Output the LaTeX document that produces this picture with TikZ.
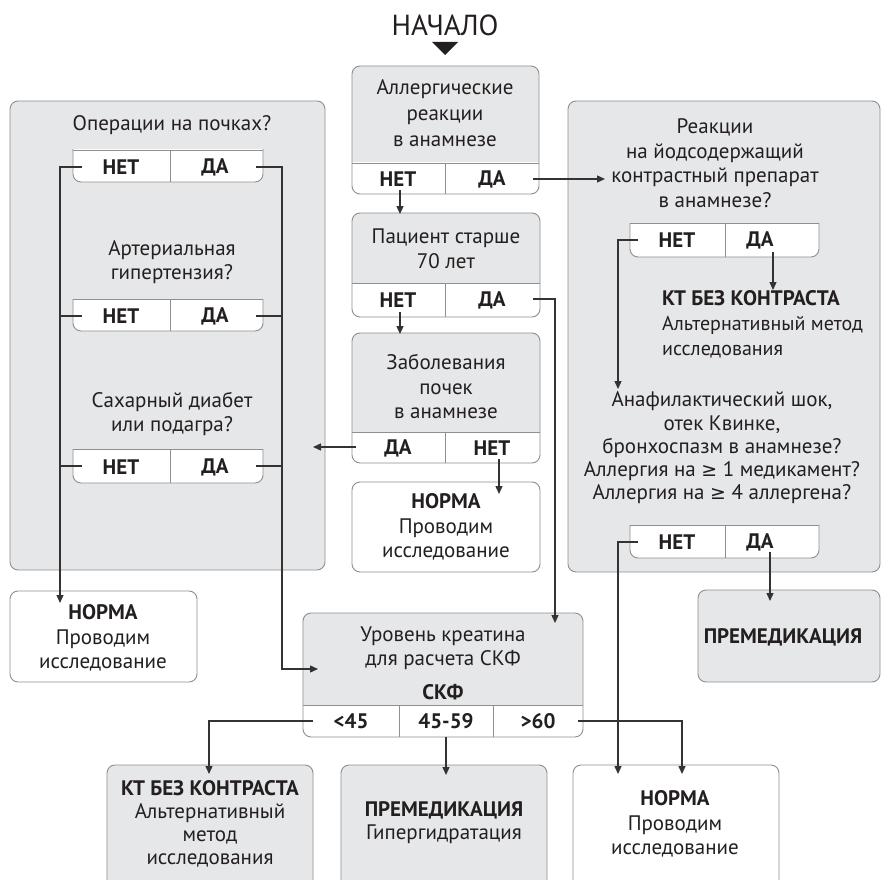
\documentclass[tikz,border=0pt]{standalone}
\usepackage{fontspec}
\setmainfont{PT Sans}
\newfontfamily\symfnt[Scale=0.9]{DejaVu Sans}
\usetikzlibrary{arrows.meta}
\definecolor{panelgray}{HTML}{E6E7E8}
\definecolor{edgegray}{HTML}{8F8F8F}
\definecolor{ink}{HTML}{231F20}
\definecolor{wire}{HTML}{333333}
\newcommand{\decbox}[5]{%
  \fill[panelgray, rounded corners=8pt] (#1,#2) rectangle (#3,#4);
  \begin{scope}\clip (#1,#5) rectangle (#3,#4+2);
    \fill[white, rounded corners=8pt] (#1,#2) rectangle (#3,#4);
  \end{scope}
  \draw[edgegray, line width=0.9pt, rounded corners=8pt] (#1,#2) rectangle (#3,#4);
  \draw[edgegray, line width=0.9pt] (#1,#5) -- (#3,#5);}
\newcommand{\ynbox}[5]{%
  \begin{scope}\clip (#1-2,#2) rectangle (#3+2,#4+2);
    \draw[edgegray, fill=white, line width=0.9pt, rounded corners=8pt] (#1,#2-12) rectangle (#3,#4);
  \end{scope}
  \draw[edgegray, line width=0.9pt] (#1,#2) -- (#3,#2);
  \draw[edgegray, line width=0.9pt] (#5,#2) -- (#5,#4);}
\newcommand{\geqsym}{{\symfnt ≥}}
\begin{document}
\begin{tikzpicture}[x=1pt,y=-1pt,
  txt/.style={text=ink, align=center, inner sep=0pt, font=\fontsize{21}{24.5}\selectfont},
  lbl/.style={text=ink, inner sep=0pt, font=\fontsize{21}{24}\selectfont\bfseries},
  wirel/.style={draw=wire, line width=1.3pt},
  arr/.style={wirel, -{Triangle[length=8pt,width=7pt]}},
  gbox/.style={draw=edgegray, fill=panelgray, line width=0.9pt, rounded corners=8pt},
  wbox/.style={draw=edgegray, fill=white, line width=0.9pt, rounded corners=8pt}]
\useasboundingbox (0,0) rectangle (881,880);
\clip (0,0) rectangle (881,880);

% title
\node[text=ink, inner sep=0pt, font=\fontsize{29}{30}\selectfont] (start) at (445,25) {НАЧАЛО};
\fill[ink] (432,42) -- (458,42) -- (445,55) -- cycle;

% panels
\draw[gbox] (10,101) rectangle (325,570);
\draw[gbox] (568,101) rectangle (880,572);
\draw[gbox] (698,590) rectangle (880,682);

% decision boxes
\decbox{352}{66}{539}{194}{163}
\draw[edgegray, line width=0.9pt] (445,163) -- (445,194);
\decbox{352}{213}{540}{317}{283}
\draw[edgegray, line width=0.9pt] (445,283) -- (445,317);
\decbox{352}{333}{540}{463}{432}
\draw[edgegray, line width=0.9pt] (445,432) -- (445,463);
\decbox{303}{613}{583}{737}{705}
\draw[edgegray, line width=0.9pt] (399,705) -- (399,737);
\draw[edgegray, line width=0.9pt] (493,705) -- (493,737);

% result boxes
\draw[wbox] (352,482) rectangle (540,572);
\draw[wbox] (10,591) rectangle (197,682);
\draw[wbox] (573,765) rectangle (779,900);
\draw[gbox] (107,765) rectangle (313,900);
\draw[gbox] (341,765) rectangle (547,900);

% yes/no boxes in panels
\ynbox{73}{150}{263}{182}{170}
\ynbox{73}{299}{263}{331}{170}
\ynbox{73}{449}{263}{483}{170}
\ynbox{630}{223}{819}{257}{725}
\ynbox{630}{525}{819}{558}{725}

% texts
\node[txt, font=\fontsize{21}{26}\selectfont] (alq) at (445,113) {Аллергические\\реакции\\в анамнезе};
\node[txt] (ageq) at (446,249) {Пациент старше\\70 лет};
\node[txt] (kidq) at (446,387) {Заболевания\\почек\\в анамнезе};
\node[txt] (norm1) at (446,527) {\textbf{НОРМА}\\Проводим\\исследование};
\node[txt] (creat) at (443,648) {Уровень креатина\\для расчета СКФ};
\node[lbl] (gfr) at (443,692) {СКФ};

\node[txt] (opq) at (172,125) {Операции на почках?};
\node[txt] (htq) at (172,262) {Артериальная\\гипертензия?};
\node[txt] (dmq) at (172,414) {Сахарный диабет\\или подагра?};
\node[txt] (norm2) at (103,638) {\textbf{НОРМА}\\Проводим\\исследование};

\node[txt] (ctq) at (715,163) {Реакции\\на йодсодержащий\\контрастный препарат\\в анамнезе?};
\node[txt, align=left, anchor=north west, font=\fontsize{20}{25}\selectfont] (kt1) at (662,290) {\textbf{\fontsize{21}{25}\selectfont КТ БЕЗ КОНТРАСТА}\\Альтернативный метод\\исследования};
\node[txt, font=\fontsize{21}{23.3}\selectfont] (anq) at (722,448) {Анафилактический шок,\\отек Квинке,\\бронхоспазм в анамнезе?\\Аллергия на \geqsym{} 1 медикамент?\\Аллергия на \geqsym{} 4 аллергена?};
\node[txt] (pre1) at (783,637) {\textbf{ПРЕМЕДИКАЦИЯ}};

\node[txt, font=\fontsize{21}{23}\selectfont] (kt2) at (210,824) {\textbf{КТ БЕЗ КОНТРАСТА}\\Альтернативный\\метод\\исследования};
\node[txt, font=\fontsize{21}{23}\selectfont] (pre2) at (444,823) {\textbf{ПРЕМЕДИКАЦИЯ}\\Гипергидратация};
\node[txt] (norm3) at (675,824) {\textbf{НОРМА}\\Проводим\\исследование};

% yes / no labels
\node[lbl] (aN) at (398,179) {НЕТ};
\node[lbl] (aY) at (492,179) {ДА};
\node[lbl] (pN) at (398,300) {НЕТ};
\node[lbl] (pY) at (492,300) {ДА};
\node[lbl] (zY) at (398,448) {ДА};
\node[lbl] (zN) at (492,448) {НЕТ};
\node[lbl] (u1) at (351,721) {<45};
\node[lbl] (u2) at (446,721) {45-59};
\node[lbl] (u3) at (538,721) {>60};
\node[lbl] (l1N) at (121,167) {НЕТ};
\node[lbl] (l1Y) at (215,167) {ДА};
\node[lbl] (l2N) at (121,316) {НЕТ};
\node[lbl] (l2Y) at (215,316) {ДА};
\node[lbl] (l3N) at (121,467) {НЕТ};
\node[lbl] (l3Y) at (215,467) {ДА};
\node[lbl] (r1N) at (677,240) {НЕТ};
\node[lbl] (r1Y) at (760,240) {ДА};
\node[lbl] (r2N) at (677,542) {НЕТ};
\node[lbl] (r2Y) at (760,542) {ДА};

% connector anchor points
\coordinate (aNo) at (400,190);   \coordinate (pIn) at (400,214);
\coordinate (aYo) at (533,179);   \coordinate (ctIn) at (605,179);
\coordinate (pNo) at (400,312);   \coordinate (zIn) at (400,334);
\coordinate (pYo) at (533,299);   \coordinate (pYc) at (555,299); \coordinate (uIn1) at (555,623);
\coordinate (zYo) at (356,447);   \coordinate (lpIn) at (313,447);
\coordinate (zNo) at (499,459);   \coordinate (n1In) at (499,494);
\coordinate (l1No) at (82,167);   \coordinate (lNc) at (60,167); \coordinate (n2In) at (60,603);
\coordinate (l2No) at (82,316);   \coordinate (lNc2) at (60,316);
\coordinate (l3No) at (82,466);   \coordinate (lNc3) at (60,466);
\coordinate (l1Yo) at (256,167);  \coordinate (lYc) at (282,167); \coordinate (lYc2) at (282,669); \coordinate (uIn2) at (318,669);
\coordinate (l2Yo) at (256,316);  \coordinate (lYd) at (282,316);
\coordinate (l3Yo) at (256,466);  \coordinate (lYe) at (282,466);
\coordinate (r1No) at (638,240);  \coordinate (r1c) at (618,240); \coordinate (anIn) at (618,389);
\coordinate (r1Yo) at (773,252);  \coordinate (ktIn) at (773,290);
\coordinate (r2No) at (638,542);  \coordinate (r2c) at (618,542); \coordinate (n3InA) at (618,774);
\coordinate (r2Yo) at (770,552);  \coordinate (preIn) at (770,601);
\coordinate (u1o) at (313,721);   \coordinate (u1c) at (209,721); \coordinate (kt2In) at (209,774);
\coordinate (u2o) at (446,737);   \coordinate (pre2In) at (446,775);
\coordinate (u3o) at (578,721);   \coordinate (u3c) at (682,721); \coordinate (n3InB) at (682,774);

% connectors
\draw[arr] (aNo) -- (pIn);
\draw[arr] (aYo) -- (ctIn);
\draw[arr] (pNo) -- (zIn);
\draw[arr] (pYo) -- (pYc) -- (uIn1);
\draw[arr] (zYo) -- (lpIn);
\draw[arr] (zNo) -- (n1In);
\draw[arr] (l1No) -- (lNc) -- (n2In);
\draw[wirel] (l2No) -- (lNc2);
\draw[wirel] (l3No) -- (lNc3);
\draw[arr] (l1Yo) -- (lYc) -- (lYc2) -- (uIn2);
\draw[wirel] (l2Yo) -- (lYd);
\draw[wirel] (l3Yo) -- (lYe);
\draw[arr] (r1No) -- (r1c) -- (anIn);
\draw[arr] (r1Yo) -- (ktIn);
\draw[arr] (r2No) -- (r2c) -- (n3InA);
\draw[arr] (r2Yo) -- (preIn);
\draw[arr] (u1o) -- (u1c) -- (kt2In);
\draw[arr] (u2o) -- (pre2In);
\draw[arr] (u3o) -- (u3c) -- (n3InB);
\end{tikzpicture}
\end{document}
